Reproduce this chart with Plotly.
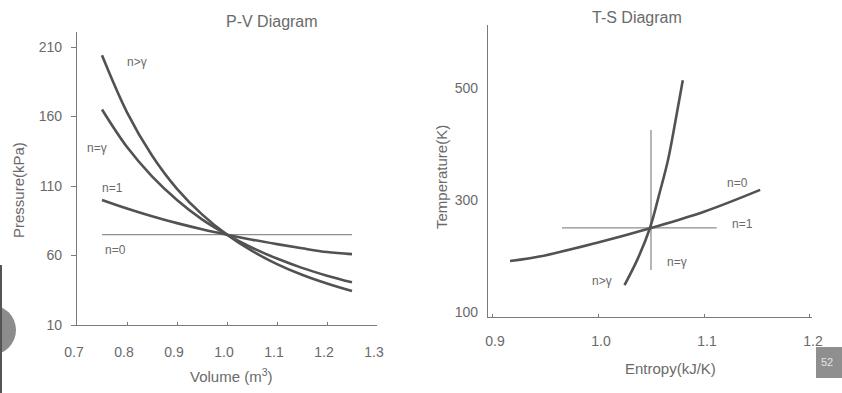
import plotly.graph_objects as go

W, H = 842, 393

# ---------------- P-V data ----------------
pv_volume = [0.75, 0.80, 0.85, 0.90, 0.95, 1.00, 1.05, 1.10, 1.15, 1.20, 1.25]
pv_n_gt_gamma = [204, 163, 132, 108, 89.6, 75, 63.3, 53.8, 46.1, 39.8, 34.5]
pv_n_gamma = [165, 138, 117, 100, 86, 75, 65.6, 57.8, 51.1, 45.5, 40.7]
pv_n_one = [100, 93.8, 88.2, 83.3, 78.9, 75, 71.4, 68.2, 65.2, 62.5, 61]
pv_n_zero_v = [0.75, 1.25]
pv_n_zero_p = [75, 75]
pv_xticks = [0.7, 0.8, 0.9, 1.0, 1.1, 1.2, 1.3]
pv_yticks = [10, 60, 110, 160, 210]

# ---------------- T-S data ----------------
ts_n_zero_s = [0.917, 0.95, 1.00, 1.05, 1.10, 1.153]
ts_n_zero_t = [191, 201, 224, 250, 279, 318]
ts_n_one_s = [0.966, 1.112]
ts_n_one_t = [250, 250]
ts_n_gamma_s = [1.05, 1.05]
ts_n_gamma_t = [175, 425]
ts_n_gt_s = [1.025, 1.037, 1.049, 1.058, 1.066, 1.072, 1.080]
ts_n_gt_t = [148, 193, 250, 312, 371, 430, 514]
ts_xticks = [0.9, 1.0, 1.1, 1.2]
ts_yticks = [100, 300, 500]

THICK = "#525252"
THIN = "#8e8e8e"
AX = "#7a7a7a"
TXT = "#6a6a6a"
FONT = "Liberation Sans, Arial, sans-serif"


def px(x):
    return x / W


def py(y):
    return 1 - y / H


fig = go.Figure()

# P-V traces
fig.add_trace(go.Scatter(x=pv_n_zero_v, y=pv_n_zero_p, mode="lines",
                         line=dict(color=THIN, width=1.3), xaxis="x", yaxis="y"))
fig.add_trace(go.Scatter(x=pv_volume, y=pv_n_one, mode="lines",
                         line=dict(color=THICK, width=2.6, shape="spline"), xaxis="x", yaxis="y"))
fig.add_trace(go.Scatter(x=pv_volume, y=pv_n_gamma, mode="lines",
                         line=dict(color=THICK, width=2.6, shape="spline"), xaxis="x", yaxis="y"))
fig.add_trace(go.Scatter(x=pv_volume, y=pv_n_gt_gamma, mode="lines",
                         line=dict(color=THICK, width=2.6, shape="spline"), xaxis="x", yaxis="y"))

# T-S traces
fig.add_trace(go.Scatter(x=ts_n_one_s, y=ts_n_one_t, mode="lines",
                         line=dict(color=THIN, width=1.3), xaxis="x2", yaxis="y2"))
fig.add_trace(go.Scatter(x=ts_n_gamma_s, y=ts_n_gamma_t, mode="lines",
                         line=dict(color=THIN, width=1.3), xaxis="x2", yaxis="y2"))
fig.add_trace(go.Scatter(x=ts_n_zero_s, y=ts_n_zero_t, mode="lines",
                         line=dict(color=THICK, width=2.6, shape="spline"), xaxis="x2", yaxis="y2"))
fig.add_trace(go.Scatter(x=ts_n_gt_s, y=ts_n_gt_t, mode="lines",
                         line=dict(color=THICK, width=2.6, shape="spline"), xaxis="x2", yaxis="y2"))

axis_common = dict(showgrid=False, zeroline=False, showline=True, linecolor=AX, automargin=False,
                   linewidth=1.3, tickcolor=AX, tickfont=dict(family=FONT, size=14, color=TXT))

fig.update_layout(
    width=W, height=H,
    margin=dict(l=0, r=0, t=0, b=0, autoexpand=False),
    paper_bgcolor="white", plot_bgcolor="white",
    showlegend=False,
    xaxis=dict(domain=[px(77), px(377)], range=[0.7, 1.3], tickvals=pv_xticks,
               ticktext=[f"{v:.1f}" for v in pv_xticks], ticks="inside", ticklen=3,
               ticklabelstandoff=14, ticklabelshift=-3, anchor="y", **axis_common),
    yaxis=dict(domain=[py(325), py(32)], range=[10, 220.8], tickvals=pv_yticks,
               ticks="outside", ticklen=5, ticklabelstandoff=6, anchor="x", **axis_common),
    xaxis2=dict(domain=[px(488), px(812)], range=[0.8962, 1.2019], tickvals=ts_xticks,
                ticktext=[f"{v:.1f}" for v in ts_xticks], ticks="inside", ticklen=3,
                ticklabelstandoff=11, ticklabelshift=3, anchor="y2", **axis_common),
    yaxis2=dict(domain=[py(317), py(25)], range=[91, 612.5], tickvals=ts_yticks,
                ticks="", ticklabelstandoff=6, anchor="x2", **axis_common),
)

ann = []


def label(text, x, y, size=13, xref="paper", yref="paper", angle=0, color=TXT, xanchor="center"):
    ann.append(dict(text=text, x=x, y=y, xref=xref, yref=yref, showarrow=False,
                    textangle=angle, xanchor=xanchor, yanchor="middle",
                    font=dict(family=FONT, size=size, color=color)))


# titles and axis titles
label("P-V Diagram", px(272), py(22), size=16)
label("T-S Diagram", px(637), py(17), size=16)
label("Volume (m<sup>3</sup>)", px(232), py(375), size=15)
label("Entropy(kJ/K)", px(670), py(368), size=15)
label("Pressure(kPa)", px(18), py(190), size=15, angle=-90)
label("Temperature(K)", px(441), py(177), size=15, angle=-90)

# curve labels, left
label("n>γ", px(137), py(62), size=12)
label("n=γ", px(97), py(148), size=12)
label("n=1", px(112), py(188), size=12)
label("n=0", px(116), py(250), size=12)
# curve labels, right
label("n=0", px(737), py(183), size=12)
label("n=1", px(742), py(224), size=12)
label("n=γ", px(677), py(262), size=12)
label("n>γ", px(602), py(281), size=12)

# scan artefacts: page badge
label("52", px(819), py(362), size=11, color="#e4e4e4", xanchor="left")

fig.update_layout(
    annotations=ann,
    shapes=[
        dict(type="circle", xref="paper", yref="paper", x0=px(-34), x1=px(16),
             y0=py(355), y1=py(305), fillcolor="#8c8c8c", line=dict(width=0), layer="below"),
        dict(type="line", xref="paper", yref="paper", x0=px(1), x1=px(1),
             y0=py(265), y1=py(393), line=dict(color="#555555", width=2)),
        dict(type="rect", xref="paper", yref="paper", x0=px(816), x1=px(845),
             y0=py(378), y1=py(347), fillcolor="#8f8f8f", line=dict(width=0), layer="below"),
    ],
)

fig.write_html(
    "out.html",
    config={"displayModeBar": False},
    post_script="document.body.style.margin='0px';document.body.style.overflow='hidden';",
)
